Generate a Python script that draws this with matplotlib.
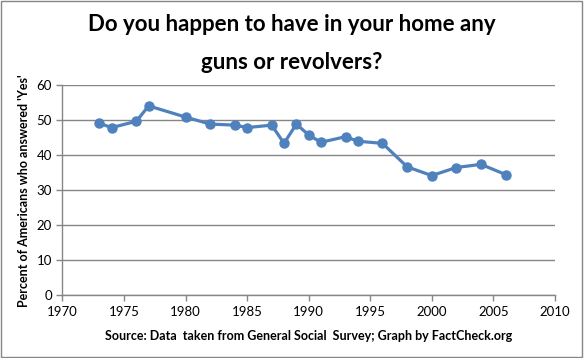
import matplotlib.pyplot as plt
from matplotlib.patches import Rectangle

plt.rcParams['font.family'] = ['Lato', 'DejaVu Sans']

# Survey years and share answering 'Yes'
years = [1973, 1974, 1976, 1977, 1980, 1982, 1984, 1985, 1987, 1988, 1989,
         1990, 1991, 1993, 1994, 1996, 1998, 2000, 2002, 2004, 2006]
pct_yes = [49.1, 47.9, 49.7, 54.1, 50.9, 48.9, 48.6, 47.9, 48.6, 43.4, 48.9,
           45.8, 43.7, 45.3, 44.0, 43.4, 36.7, 34.2, 36.5, 37.4, 34.5]

x_ticks = list(range(1970, 2011, 5))
y_ticks = list(range(0, 61, 10))

grid_col = '#868686'
line_col = '#4F81BD'

fig = plt.figure(figsize=(5.84, 3.58), dpi=100)
ax = fig.add_axes([0.107, 0.175, 0.843, 0.587])

ax.plot(years, pct_yes, color=line_col, lw=2.3, marker='o', ms=6.5,
        zorder=3, clip_on=False)

ax.set_xlim(1970, 2010)
ax.set_ylim(0, 60)
ax.set_xticks(x_ticks)
ax.set_yticks(y_ticks)
ax.yaxis.grid(True, color=grid_col, lw=1)
ax.set_axisbelow(True)

for side in ['top', 'right']:
    ax.spines[side].set_visible(False)
for side in ['left', 'bottom']:
    ax.spines[side].set_color(grid_col)
    ax.spines[side].set_linewidth(1)

ax.tick_params(axis='both', colors=grid_col, labelcolor='black',
               labelsize=9.5, length=4, width=1)

ax.set_xlabel('Source: Data  taken from General Social  Survey; Graph by FactCheck.org',
              fontsize=9, fontweight='bold', labelpad=9)
ax.set_ylabel("Percent of Americans who answered 'Yes'", fontsize=9,
              fontweight='bold', labelpad=5)

fig.text(0.5, 0.932, 'Do you happen to have in your home any', ha='center',
         va='center', fontsize=16, fontweight='bold')
fig.text(0.5, 0.826, 'guns or revolvers?', ha='center', va='center',
         fontsize=16, fontweight='bold')

# outer chart border
fig.patches.append(Rectangle((0.002, 0.003), 0.995, 0.993, transform=fig.transFigure,
                             fill=False, edgecolor=grid_col, lw=1))

fig.savefig('out.png', dpi=100)
